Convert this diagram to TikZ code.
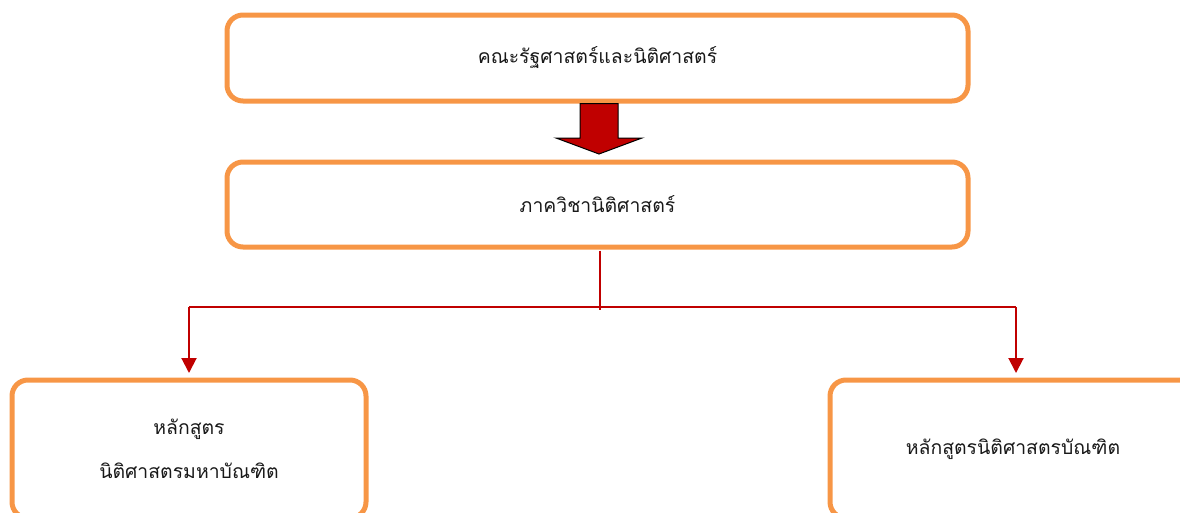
\documentclass[tikz,border=0pt]{standalone}
\usepackage{fontspec}
\newfontfamily\thaifont[Script=Thai]{Loma}
\usetikzlibrary{arrows.meta}
\definecolor{boxorange}{HTML}{F79646}
\definecolor{darkred}{HTML}{C00000}
\begin{document}
\begin{tikzpicture}[x=1pt,y=-1pt,
  orgbox/.style={draw=boxorange,line width=5pt,rounded corners=16pt,inner sep=0pt,
    font=\thaifont\fontsize{19.4}{44}\selectfont,align=center,text=black!90},
  link/.style={draw=darkred,line width=2pt},
  linkarrow/.style={link,-{Triangle[length=15pt,width=15pt]}}]
\useasboundingbox (0,0) rectangle (1180,512);
\node[orgbox,minimum width=741pt,minimum height=86pt] (fac) at (597.5,58) {คณะรัฐศาสตร์และนิติศาสตร์};
\node[orgbox,minimum width=741pt,minimum height=85pt] (dept) at (597.5,204.5) {ภาควิชานิติศาสตร์};
\node[orgbox,minimum width=354pt,minimum height=138pt] (master) at (189,449) {หลักสูตร\\นิติศาสตรมหาบัณฑิต};
\node[orgbox,minimum width=366pt,minimum height=138pt] (bach) at (1013,449) {หลักสูตรนิติศาสตรบัณฑิต};
% block arrow
\filldraw[fill=darkred,draw=black,line width=1pt]
  (580,103.5) -- (618,103.5) -- (618,138) -- (642,138) -- (599,154) -- (556,138) -- (580,138) -- cycle;
% connectors
\coordinate (mid) at (600,307);
\coordinate (left) at (189,307);
\coordinate (right) at (1016,307);
\draw[link] ([yshift=-1pt]dept.south -| mid) -- ([yshift=-3pt]mid);
\draw[link] (left) -- (right);
\draw[linkarrow] (left) -- ([yshift=4.5pt]master.north -| left);
\draw[linkarrow] (right) -- ([yshift=4.5pt]bach.north -| right);
\end{tikzpicture}
\end{document}
